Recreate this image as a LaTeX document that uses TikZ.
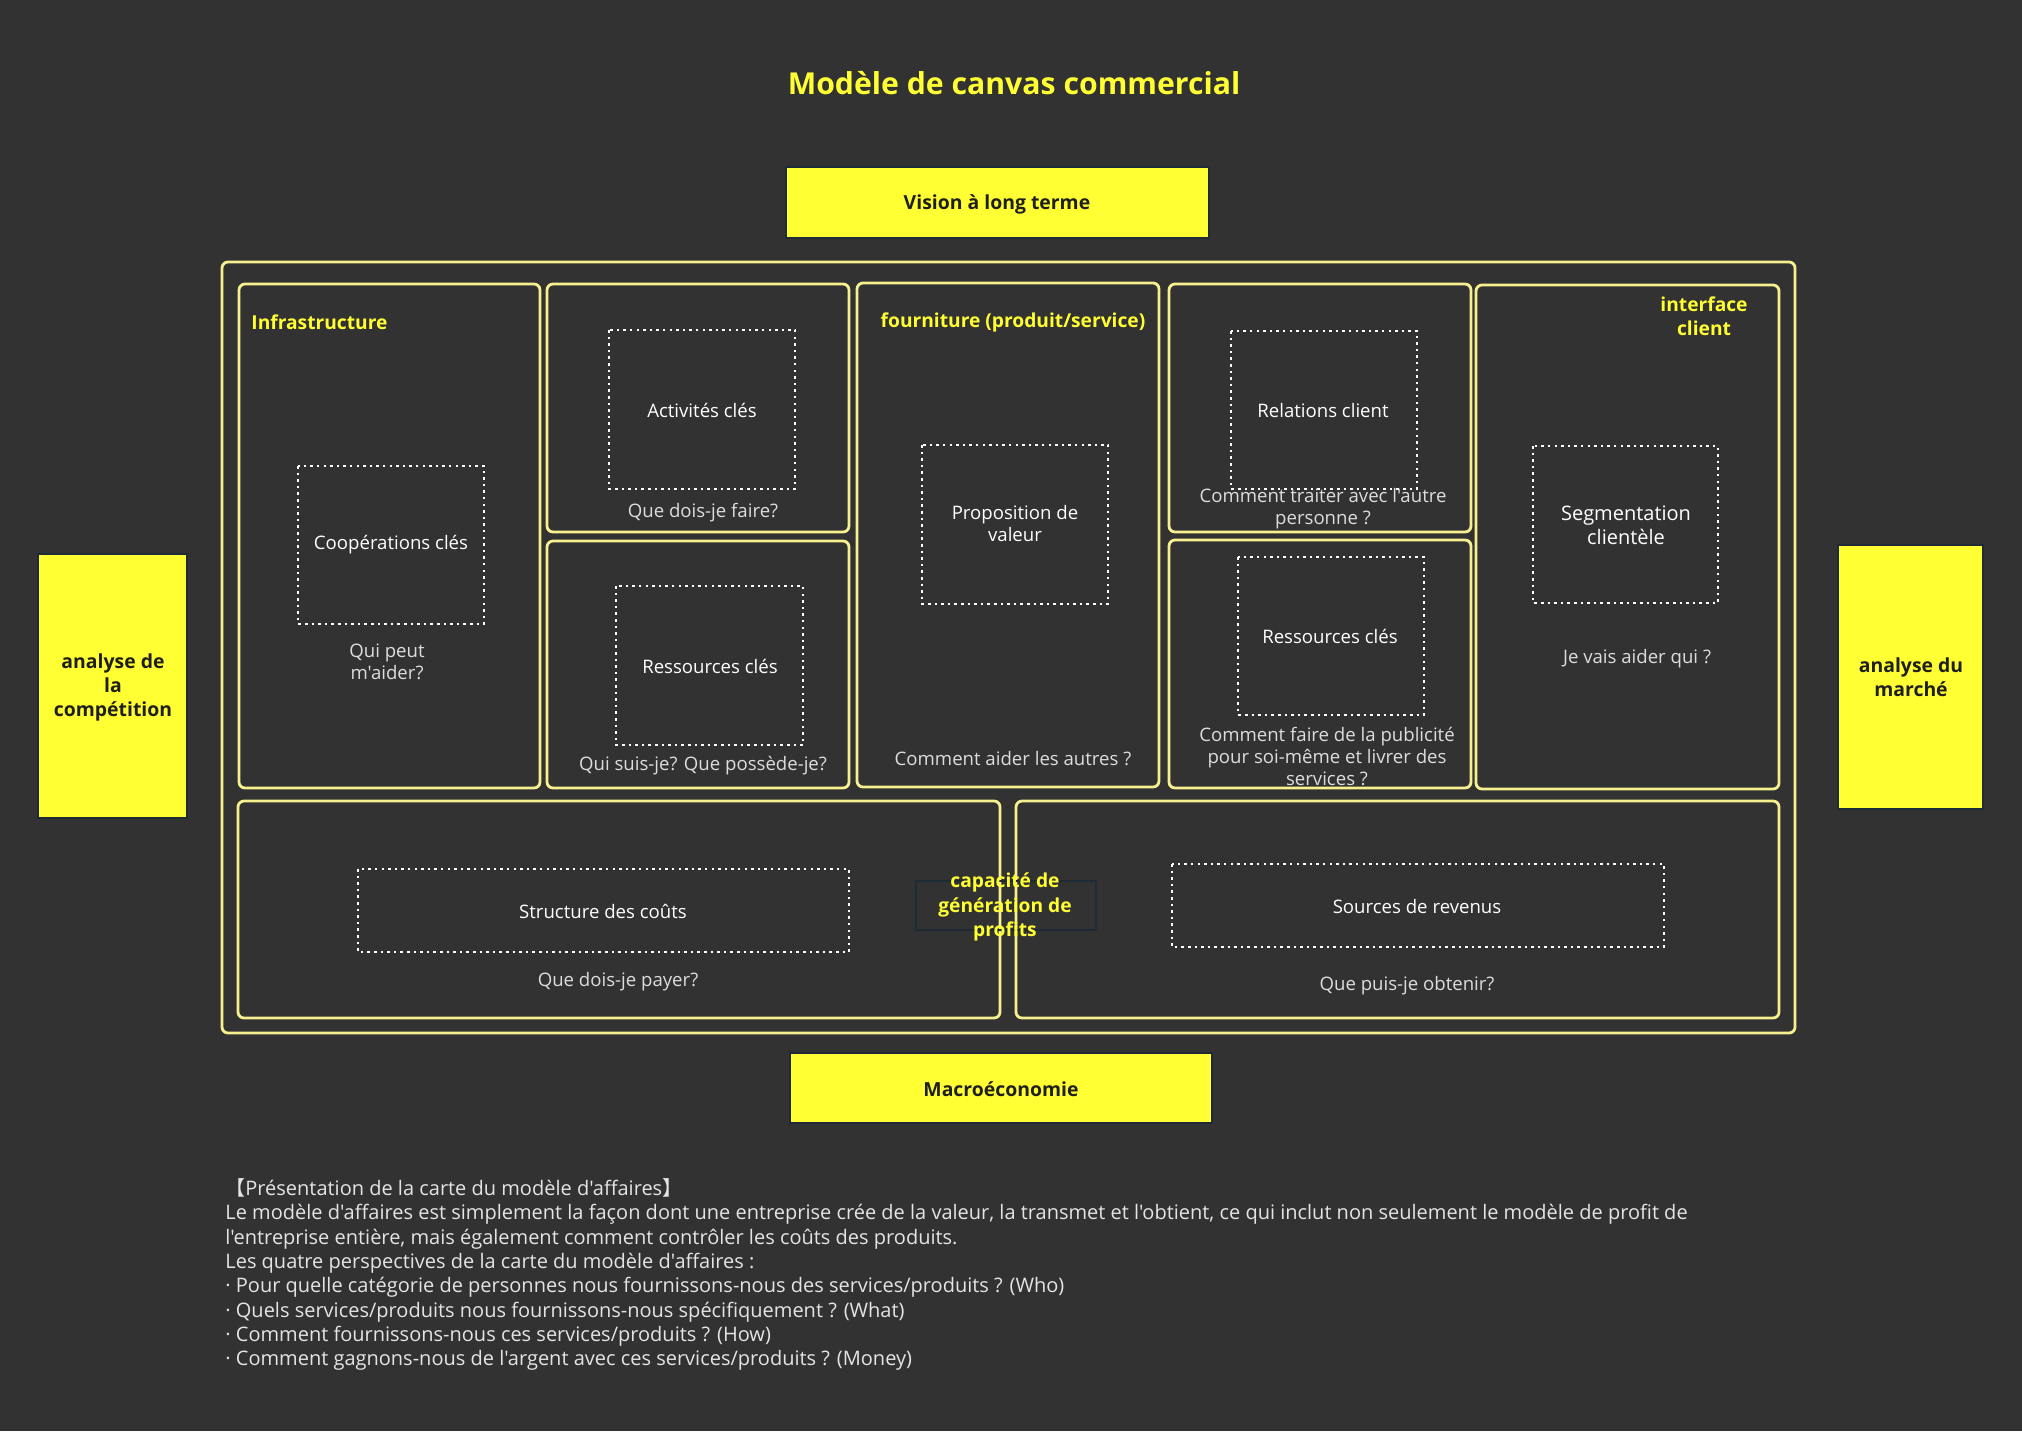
\documentclass[tikz,border=0pt]{standalone}
\usepackage{fontspec}
\setmainfont{Open Sans}
\newfontfamily\osans{Open Sans}
\newfontfamily\cjk{Noto Sans CJK SC}
\definecolor{bg}{HTML}{323232}
\definecolor{ylw}{HTML}{FFFF33}
\definecolor{pale}{HTML}{F6F08E}
\definecolor{edge}{HTML}{1E2A35}
\definecolor{qtxt}{HTML}{DDDDDD}
\tikzset{
 x=0.5pt, y=-0.5pt,
 frame/.style={draw=pale, line width=1.4pt, rounded corners=3pt},
 dotbox/.style={draw=white, line width=1.25pt, dash pattern=on 1.25pt off 2.05pt},
 ybox/.style={fill=ylw, draw=edge, line width=1.2pt},
 lbl/.style={text=white, font=\osans\fontsize{9.3pt}{11pt}\selectfont, align=center, inner sep=0pt},
 bigl/.style={text=white, font=\osans\fontsize{10pt}{12pt}\selectfont, align=center, inner sep=0pt},
 qq/.style={text=qtxt, font=\osans\fontsize{9.3pt}{11pt}\selectfont, align=center, inner sep=0pt},
 sec/.style={text=ylw, font=\osans\bfseries\fontsize{9.6pt}{12.2pt}\selectfont, align=center, inner sep=0pt},
 ylbl/.style={text=black!88, font=\osans\bfseries\fontsize{9.7pt}{12pt}\selectfont, align=center, inner sep=0pt},
 body/.style={text=qtxt!80!white, font=\osans\fontsize{10pt}{12pt}\selectfont, anchor=base west, inner sep=0pt},
}
\begin{document}
\begin{tikzpicture}
\fill[bg] (0,0) rectangle (2022,1431);
\useasboundingbox (0,0) rectangle (2022,1431);

% title
\node[text=ylw, font=\osans\bfseries\fontsize{15.1pt}{18pt}\selectfont, inner sep=0pt] (title) at (1014,83) {Modèle de canvas commercial};

% yellow boxes
\draw[ybox] (786,167) rectangle (1209,238);
\node[ylbl] (vision) at (997,204) {Vision à long terme};
\draw[ybox] (790,1053) rectangle (1212,1123);
\node[ylbl] (macro) at (1001,1089) {Macroéconomie};
\draw[ybox] (38,554) rectangle (187,818);
\node[ylbl] (compet) at (113,687) {analyse de\\la\\compétition};
\draw[ybox] (1838,545) rectangle (1983,809);
\node[ylbl] (marche) at (1911,677) {analyse du\\marché};

% outer frame and sections
\draw[frame] (222,262) rectangle (1795,1033);
\draw[frame] (239,284) rectangle (540,788);
\draw[frame] (547,284) rectangle (849,532);
\draw[frame] (547,541) rectangle (849,788);
\draw[frame] (857,283) rectangle (1159,787);
\draw[frame] (1169,284) rectangle (1471,532);
\draw[frame] (1169,540) rectangle (1471,788);
\draw[frame] (1476,285) rectangle (1779,789);
\draw[frame] (238,801) rectangle (1000,1018);
\draw[frame] (1016,801) rectangle (1779,1018);

% section labels
\node[sec, anchor=west] (infra) at (251,322) {Infrastructure};
\node[sec] (fourn) at (1013,322) {fourniture (produit/service)};
\node[sec] (interf) at (1704,316) {interface\\client};

% dotted boxes and texts
\draw[dotbox] (298,466) rectangle (484,624);
\node[lbl] (coop) at (391,545) {Coopérations clés};
\node[qq] (coopq) at (387,662) {Qui peut\\m'aider?};

\draw[dotbox] (609,330) rectangle (795,489);
\node[lbl] (activ) at (702,410) {Activités clés};
\node[qq] (activq) at (703,513) {Que dois-je faire?};

\draw[dotbox] (616,586) rectangle (803,745);
\node[lbl] (ress) at (710,666) {Ressources clés};
\node[qq] (ressq) at (703,766) {Qui suis-je? Que possède-je?};

\draw[dotbox] (922,445) rectangle (1108,604);
\node[lbl] (propo) at (1015,524) {Proposition de\\valeur};
\node[qq] (propoq) at (1013,759) {Comment aider les autres ?};

\draw[dotbox] (1231,331) rectangle (1417,489);
\node[lbl] (relat) at (1323,411) {Relations client};
\node[qq] (relatq) at (1323,509) {Comment traiter avec l'autre\\personne ?};

\draw[dotbox] (1238,557) rectangle (1424,715);
\node[lbl] (ress2) at (1330,636) {Ressources clés};
\node[qq] (ress2q) at (1327,756) {Comment faire de la publicité\\pour soi-même et livrer des\\services ?};

\draw[dotbox] (1533,446) rectangle (1718,603);
\node[bigl] (segm) at (1626,525) {Segmentation\\clientèle};
\node[qq] (segmq) at (1637,659) {Je vais aider qui ?};

\draw[dotbox] (358,869) rectangle (849,952);
\node[lbl] (struct) at (603,911) {Structure des coûts};
\node[qq] (structq) at (618,982) {Que dois-je payer?};

\draw[dotbox] (1172,864) rectangle (1664,947);
\node[lbl] (sources) at (1417,907) {Sources de revenus};
\node[qq] (sourcesq) at (1407,986) {Que puis-je obtenir?};

% capacité box
\draw[draw=edge, line width=1.3pt] (916,881) rectangle (1096,930);
\node[sec] (capa) at (1005,907) {capacité de\\génération de\\profits};

% body text
\node[body] (b1) at (225,1195) {{\cjk 【}Présentation de la carte du modèle d'affaires{\cjk 】}};
\node[body] (b2) at (225,1219) {Le modèle d'affaires est simplement la façon dont une entreprise crée de la valeur, la transmet et l'obtient, ce qui inclut non seulement le modèle de profit de};
\node[body] (b3) at (225,1244) {l'entreprise entière, mais également comment contrôler les coûts des produits.};
\node[body] (b4) at (225,1268) {Les quatre perspectives de la carte du modèle d'affaires :};
\node[body] (b5) at (225,1292) {· Pour quelle catégorie de personnes nous fournissons-nous des services/produits ? (Who)};
\node[body] (b6) at (225,1317) {· Quels services/produits nous fournissons-nous spécifiquement ? (What)};
\node[body] (b7) at (225,1341) {· Comment fournissons-nous ces services/produits ? (How)};
\node[body] (b8) at (225,1365) {· Comment gagnons-nous de l'argent avec ces services/produits ? (Money)};
\end{tikzpicture}
\end{document}
